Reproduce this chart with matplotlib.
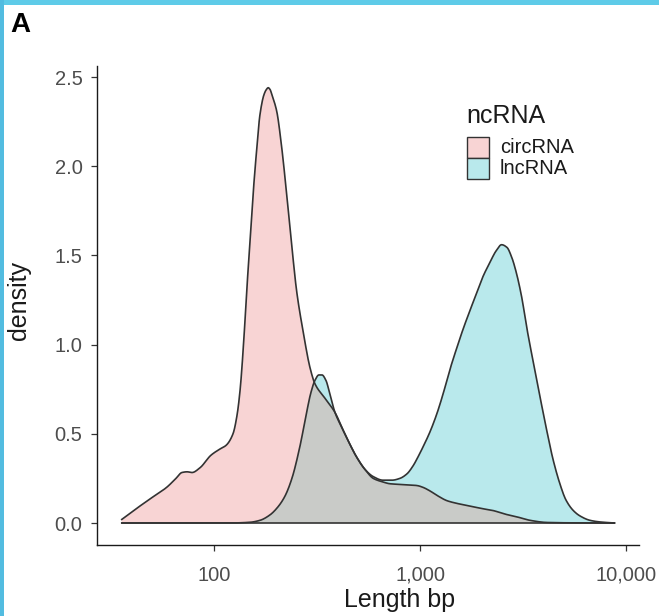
import numpy as np
import matplotlib
matplotlib.use("Agg")
import matplotlib.pyplot as plt
from matplotlib.patches import Rectangle

plt.rcParams['font.family'] = ['Liberation Sans', 'DejaVu Sans']

# ---------------- data ----------------
groups = ["circRNA", "lncRNA"]

circ_log10_len = [1.550, 1.614, 1.687, 1.768, 1.813, 1.842, 1.867, 1.891, 1.930, 1.983,
                  2.027, 2.056, 2.090, 2.109, 2.124, 2.141, 2.156, 2.172, 2.188, 2.204,
                  2.221, 2.240, 2.252, 2.261, 2.270, 2.279, 2.302, 2.325, 2.350, 2.374,
                  2.399, 2.431, 2.464, 2.488, 2.536, 2.585, 2.625, 2.658, 2.690, 2.731,
                  2.771, 2.818, 2.852, 2.925, 2.983, 3.012, 3.046, 3.080, 3.129, 3.177,
                  3.240, 3.303, 3.352, 3.410, 3.449, 3.483, 3.532, 3.614, 3.774, 3.942]
circ_density = [0.02, 0.075, 0.135, 0.20, 0.25, 0.283, 0.287, 0.283, 0.31, 0.38,
                0.415, 0.435, 0.50, 0.60, 0.74, 1.00, 1.29, 1.57, 1.85, 2.08,
                2.29, 2.40, 2.43, 2.44, 2.43, 2.40, 2.31, 2.12, 1.85, 1.57,
                1.30, 1.07, 0.87, 0.78, 0.70, 0.62, 0.52, 0.44, 0.37, 0.30,
                0.25, 0.23, 0.22, 0.215, 0.21, 0.20, 0.18, 0.155, 0.125, 0.11,
                0.095, 0.08, 0.07, 0.05, 0.04, 0.03, 0.015, 0.003, 0.0005, 0.0]

lnc_log10_len = [1.550, 2.075, 2.172, 2.221, 2.269, 2.308, 2.342, 2.376, 2.415, 2.444,
                 2.468, 2.488, 2.507, 2.522, 2.541, 2.561, 2.585, 2.625, 2.658, 2.690,
                 2.731, 2.771, 2.818, 2.862, 2.900, 2.934, 2.964, 2.988, 3.014, 3.046,
                 3.079, 3.109, 3.143, 3.176, 3.208, 3.240, 3.273, 3.303, 3.337, 3.367,
                 3.394, 3.420, 3.443, 3.464, 3.491, 3.517, 3.548, 3.580, 3.613, 3.643,
                 3.677, 3.706, 3.742, 3.774, 3.823, 3.871, 3.942]
lnc_density = [0.0, 0.0, 0.004, 0.015, 0.045, 0.09, 0.15, 0.25, 0.43, 0.60,
               0.73, 0.80, 0.83, 0.83, 0.80, 0.72, 0.62, 0.52, 0.44, 0.37,
               0.30, 0.26, 0.24, 0.24, 0.25, 0.275, 0.32, 0.37, 0.43, 0.51,
               0.61, 0.72, 0.86, 0.98, 1.09, 1.19, 1.29, 1.38, 1.46, 1.525,
               1.56, 1.545, 1.49, 1.41, 1.27, 1.09, 0.90, 0.71, 0.52, 0.36,
               0.22, 0.13, 0.07, 0.04, 0.015, 0.006, 0.0]

x_ticks = [100, 1000, 10000]
x_tick_labels = ["100", "1,000", "10,000"]
y_ticks = [0.0, 0.5, 1.0, 1.5, 2.0, 2.5]
y_tick_labels = ["0.0", "0.5", "1.0", "1.5", "2.0", "2.5"]

fill_colors = {"circRNA": "#F8D4D4", "lncRNA": "#B9E9EC"}
overlap_color = "#C9CBC8"
edge_color = "#333333"


def pchip(x, y, xn):
    x = np.asarray(x, float); y = np.asarray(y, float)
    h = np.diff(x); d = np.diff(y) / h
    m = np.zeros_like(y)
    m[0], m[-1] = d[0], d[-1]
    for k in range(1, len(x) - 1):
        if d[k - 1] * d[k] <= 0:
            m[k] = 0.0
        else:
            w1 = 2 * h[k] + h[k - 1]
            w2 = h[k] + 2 * h[k - 1]
            m[k] = (w1 + w2) / (w1 / d[k - 1] + w2 / d[k])
    idx = np.clip(np.searchsorted(x, xn) - 1, 0, len(x) - 2)
    t = (xn - x[idx]) / h[idx]
    h00 = 2 * t**3 - 3 * t**2 + 1
    h10 = t**3 - 2 * t**2 + t
    h01 = -2 * t**3 + 3 * t**2
    h11 = t**3 - t**2
    return np.maximum(h00 * y[idx] + h10 * h[idx] * m[idx] + h01 * y[idx + 1] + h11 * h[idx] * m[idx + 1], 0)


W, H = 659, 616
fig = plt.figure(figsize=(W / 100, H / 100), dpi=100)

# border bands of the source screenshot
fig.patches.append(Rectangle((0, 1 - 5 / H), 1, 5 / H, transform=fig.transFigure,
                             facecolor="#5ECBE8", edgecolor="none", zorder=0))
fig.patches.append(Rectangle((0, 0), 4 / W, 1, transform=fig.transFigure,
                             facecolor="#52BCE0", edgecolor="none", zorder=0))

ax = fig.add_axes([97 / W, 1 - 545 / H, (639 - 97) / W, (545 - 66.5) / H])

grid = np.linspace(1.550, 3.942, 1500)
yc = pchip(circ_log10_len, circ_density, grid)
yl = pchip(lnc_log10_len, lnc_density, grid)
xs = 10 ** grid

ax.fill_between(xs, 0, yc, facecolor=fill_colors["circRNA"], edgecolor="none", zorder=1)
ax.fill_between(xs, 0, yl, facecolor=fill_colors["lncRNA"], edgecolor="none", zorder=2)
ax.fill_between(xs, 0, np.minimum(yc, yl), facecolor=overlap_color, edgecolor="none", zorder=3)
ax.plot(xs, yc, color=edge_color, lw=1.2, zorder=4, solid_joinstyle="round")
ax.plot(xs, yl, color=edge_color, lw=1.2, zorder=4, solid_joinstyle="round")
ax.plot([xs[0], xs[-1]], [0, 0], color=edge_color, lw=1.2, zorder=4)

ax.set_xscale("log")
ax.set_xlim(26.9, 11510)
ax.set_ylim(-0.1233, 2.559)
ax.set_xticks(x_ticks)
ax.set_xticklabels(x_tick_labels)
ax.xaxis.set_minor_locator(matplotlib.ticker.NullLocator())
ax.set_yticks(y_ticks)
ax.set_yticklabels(y_tick_labels)

for s in ["top", "right"]:
    ax.spines[s].set_visible(False)
for s in ["left", "bottom"]:
    ax.spines[s].set_color("#1A1A1A")
    ax.spines[s].set_linewidth(1.0)

ax.tick_params(axis="both", length=4, width=0.9, color="#333333",
               labelcolor="#4D4D4D", labelsize=14.5)
ax.tick_params(axis="y", pad=6.5)
ax.tick_params(axis="x", pad=11)

# axis titles
fig.text(400 / W, 1 - 607 / H, "Length bp", ha="center", va="baseline",
         fontsize=18, color="#1A1A1A")
fig.text(19 / W, 1 - 300 / H, "density", ha="center", va="center", rotation=90,
         fontsize=18, color="#1A1A1A")

# panel tag
fig.text(10 / W, 1 - 32 / H, "A", ha="left", va="baseline", fontsize=20,
         fontweight="bold", color="black")

# legend (manual)
fig.text(466.7 / W, 1 - 123 / H, "ncRNA", ha="left", va="baseline", fontsize=18,
         color="#1A1A1A")
key_tops = [136.7, 158.0]
for g, top in zip(groups, key_tops):
    fig.patches.append(Rectangle((466.7 / W, 1 - (top + 21) / H), 22.5 / W, 21 / H,
                                 transform=fig.transFigure, facecolor=fill_colors[g],
                                 edgecolor=edge_color, lw=1.0, zorder=5))
    fig.text(500 / W, 1 - (top + 10.5) / H, g, ha="left", va="center", fontsize=14.5,
             color="#1A1A1A")

fig.savefig("out.png", dpi=100)
